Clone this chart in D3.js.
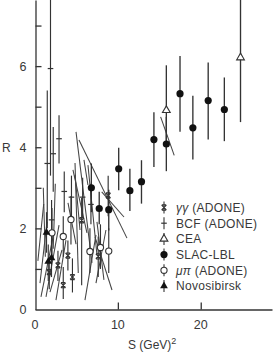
<!DOCTYPE html>
<html><head><meta charset="utf-8">
<script src="https://cdn.jsdelivr.net/npm/d3@7"></script>
<style>
body{margin:0;background:#fff}
svg{display:block}
text{font-family:"Liberation Sans",Arial,sans-serif;fill:#383838}
</style>
</head><body><svg id="c" width="273" height="353"></svg>
<script>
// ---- data (S in GeV^2, R) ----
const slacS  = [6.8, 7.75, 8.9, 10.1, 11.45, 12.85, 14.35, 15.85, 17.5, 19.05, 20.9, 22.85];
const slacR  = [3.0, 2.49, 2.46, 3.47, 2.93, 3.15, 4.19, 4.08, 5.32, 4.48, 5.15, 4.93];
const slacHi = [3.6, 2.9, 2.95, 3.99, 3.47, 3.68, 4.86, 4.75, 6.25, 5.27, 6.09, 5.72];
const slacLo = [2.4, 2.1, 1.95, 2.94, 2.43, 2.61, 3.51, 3.41, 4.38, 3.70, 4.19, 4.15];

const ceaS  = [15.85, 24.8];
const ceaR  = [4.91, 6.21];
const ceaHi = [6.02, 7.7];
const ceaLo = [3.95, 4.62];

const bcfS  = [1.87, 1.48, 2.2, 2.9, 3.53, 4.4, 5.75, 6.75, 2.0];
const bcfR  = [5.94, 3.6, 3.84, 4.21, 2.91, 2.77, 2.77, 2.59, 2.21];
const bcfHi = [7.7, 5.4, 4.5, 4.79, 3.4, 3.3, 3.25, 3.1, 2.7];
const bcfLo = [3.3, 2.0, 2.9, 3.6, 2.4, 2.2, 2.25, 2.1, 1.6];

const ggS  = [1.72, 2.77, 3.97, 3.41, 4.52, 5.63, 7.63, 8.83];
const ggR  = [0.92, 1.09, 1.33, 0.60, 0.80, 2.2, 1.31, 2.81];
const ggHi = [1.3, 1.45, 1.7, 1.05, 1.26, 2.75, 1.8, 3.3];
const ggLo = [0.5, 0.7, 0.96, 0.26, 0.42, 0.6, 0.8, 2.3];

const mpS  = [2.05, 3.41, 4.34, 6.63, 7.9, 8.9];
const mpR  = [1.89, 1.80, 2.22, 1.43, 1.53, 1.44];
const mpHi = [2.5, 2.3, 2.8, 2.0, 2.1, 2.0];
const mpLo = [1.3, 1.3, 1.6, 0.9, 1.0, 0.9];

const novS  = [1.39, 1.6, 1.99];
const novR  = [1.90, 1.18, 1.27];
const novHi = [2.4, 1.6, 1.7];
const novLo = [1.4, 0.7, 0.8];

// slanted error streaks: start (S,R) -> end (S,R)
const slS1 = [5.31, 4.95, 8.05, 15.16, 0.72, 1.33, 1.81, 3.98, 4.58, 7.24, 6.03, 0.60, 2.53, 5.91, 4.83, 4.83, 6.39, 7.48, 8.56, 1.0, 2.45, 0.35];
const slR1 = [4.18, 4.38, 2.90, 4.75, 0.31, 0.31, 0.43, 2.63, 3.44, 1.79, 0.23, 0.65, 0.23, 3.69, 3.61, 3.32, 3.56, 2.16, 1.96, 3.0, 3.1, 1.2];
const slS2 = [11.10, 6.88, 10.74, 16.80, 2.29, 2.90, 3.26, 4.95, 6.27, 9.29, 7.36, 1.45, 3.74, 6.39, 5.22, 5.43, 7.48, 8.32, 7.36, 1.25, 2.2, 1.05];
const slR2 = [1.76, 1.15, 2.28, 3.80, 1.91, 2.08, 1.47, 1.61, 1.89, 0.48, 1.84, 2.16, 1.71, 3.07, 0.90, 1.96, 1.34, 0.73, 0.65, 1.3, 1.5, 2.6];

const yTicks = [1, 2, 3, 4, 5, 6, 7];
const yLabels = [0, 2, 4, 6];
const xTicks = [10, 20];
const xLabels = [0, 10, 20];

const legendRows = [
  {key: "gg", parts: [["γγ", true], [" (ADONE)", false]]},
  {key: "bcf", parts: [["BCF (ADONE)", false]]},
  {key: "cea", parts: [["CEA", false]]},
  {key: "slac", parts: [["SLAC-LBL", false]]},
  {key: "mp", parts: [["μπ", true], [" (ADONE)", false]]},
  {key: "nov", parts: [["Novosibirsk", false]]}
];

// ---- drawing ----
const svg = d3.select("#c");
const x = d3.scaleLinear().domain([0, 28.6]).range([35, 272]);
const y = d3.scaleLinear().domain([0, 7.63]).range([309.5, 0]);
const ink = "#333";

const zip = (S, R, Hi, Lo) => S.map((s, i) => ({s, r: R[i], hi: Hi[i], lo: Lo[i]}));
const slac = zip(slacS, slacR, slacHi, slacLo);
const cea = zip(ceaS, ceaR, ceaHi, ceaLo);
const bcf = zip(bcfS, bcfR, bcfHi, bcfLo);
const gg = zip(ggS, ggR, ggHi, ggLo);
const mp = zip(mpS, mpR, mpHi, mpLo);
const nov = zip(novS, novR, novHi, novLo);
const streaks = slS1.map((s, i) => ({s1: s, r1: slR1[i], s2: slS2[i], r2: slR2[i]}));

const plot = svg.append("g");
plot.append("clipPath").attr("id", "clip").append("rect")
  .attr("x", 35).attr("y", 0).attr("width", 238).attr("height", 310);
const g = plot.append("g").attr("clip-path", "url(#clip)");

// streaks
g.selectAll(".st").data(streaks).join("line")
  .attr("x1", d => x(d.s1)).attr("y1", d => y(d.r1))
  .attr("x2", d => x(d.s2)).attr("y2", d => y(d.r2))
  .attr("stroke", "#444").attr("stroke-width", 1.05);

// vertical error bars
function bars(data, cls, w) {
  g.selectAll("." + cls).data(data).join("line").attr("class", cls)
    .attr("x1", d => x(d.s)).attr("x2", d => x(d.s))
    .attr("y1", d => y(d.hi)).attr("y2", d => y(d.lo))
    .attr("stroke", ink).attr("stroke-width", w || 1.3);
}
bars(bcf, "bb", 1.15); bars(gg, "gb", 1.15); bars(mp, "mb", 1.15); bars(nov, "nb", 1.15);
bars(slac, "sb", 1.35); bars(cea, "cb", 1.35);

// marker helpers
const triPath = d3.symbol().type(d3.symbolTriangle).size(26)();
function mark(sel, key) {
  if (key === "slac") {
    sel.append("circle").attr("r", 3.6).attr("fill", "#111");
  } else if (key === "mp") {
    sel.append("circle").attr("r", 3.1).attr("fill", "#fff").attr("stroke", ink).attr("stroke-width", 1.1);
  } else if (key === "cea") {
    sel.append("path").attr("d", triPath).attr("fill", "#fff").attr("stroke", ink).attr("stroke-width", 1.1);
  } else if (key === "nov") {
    sel.append("path").attr("d", triPath).attr("fill", "#111");
  } else if (key === "bcf") {
    sel.append("path").attr("d", "M-2.8,0H2.8").attr("stroke", ink).attr("stroke-width", 1.2);
  } else if (key === "gg") {
    sel.append("path").attr("d", "M-2.4,-2.4L2.4,2.4M-2.4,2.4L2.4,-2.4M-2.2,-2.6H2.2M-2.2,2.6H2.2")
      .attr("stroke", ink).attr("stroke-width", 1.1).attr("fill", "none");
  }
}
function markers(data, key) {
  g.selectAll(".m" + key).data(data).join("g").attr("class", "m" + key)
    .attr("transform", d => `translate(${x(d.s)},${y(d.r)})`)
    .each(function () { mark(d3.select(this), key); });
}
markers(bcf, "bcf"); markers(gg, "gg"); markers(mp, "mp"); markers(nov, "nov");
markers(slac, "slac"); markers(cea, "cea");

// axes
const yAxis = svg.append("g").attr("transform", "translate(35.5,0)")
  .call(d3.axisRight(y).tickValues(yTicks).tickSize(6).tickSizeOuter(0).tickFormat(""));
const xAxis = svg.append("g").attr("transform", "translate(0,309.5)")
  .call(d3.axisTop(x).tickValues(xTicks).tickSize(7).tickSizeOuter(0).tickFormat(""));
[yAxis, xAxis].forEach(a => {
  a.selectAll("path,line").attr("stroke", ink).attr("stroke-width", 1.3);
});
svg.selectAll(".ylab").data(yLabels).join("text")
  .attr("x", 23).attr("y", d => y(d) + 4.5).attr("text-anchor", "middle")
  .attr("font-size", 12.5).text(d => d);
svg.selectAll(".xlab").data(xLabels).join("text")
  .attr("x", d => x(d)).attr("y", 329).attr("text-anchor", "middle")
  .attr("font-size", 12.5).text(d => d);

svg.append("text").attr("x", 2).attr("y", 151.5).attr("font-size", 12).text("R");
const xt = svg.append("text").attr("x", 128).attr("y", 349).attr("font-size", 12);
xt.append("tspan").text("S (GeV)");
xt.append("tspan").attr("dy", -5).attr("font-size", 9).text("2");

// legend
const lg = svg.append("g");
const rows = lg.selectAll("g").data(legendRows).join("g")
  .attr("transform", (d, i) => `translate(164,${207.5 + i * 15.7})`);
rows.append("line").attr("x1", 0).attr("x2", 0).attr("y1", -6).attr("y2", 6)
  .attr("stroke", ink).attr("stroke-width", 1.1);
rows.each(function (d) { mark(d3.select(this), d.key); });
rows.append("text").attr("x", 12).attr("y", 4.3).attr("font-size", 12)
  .attr("letter-spacing", 0.3)
  .each(function (d) {
    const t = d3.select(this);
    d.parts.forEach(p => t.append("tspan").attr("font-style", p[1] ? "italic" : null).text(p[0]));
  });
</script>
</body></html>
